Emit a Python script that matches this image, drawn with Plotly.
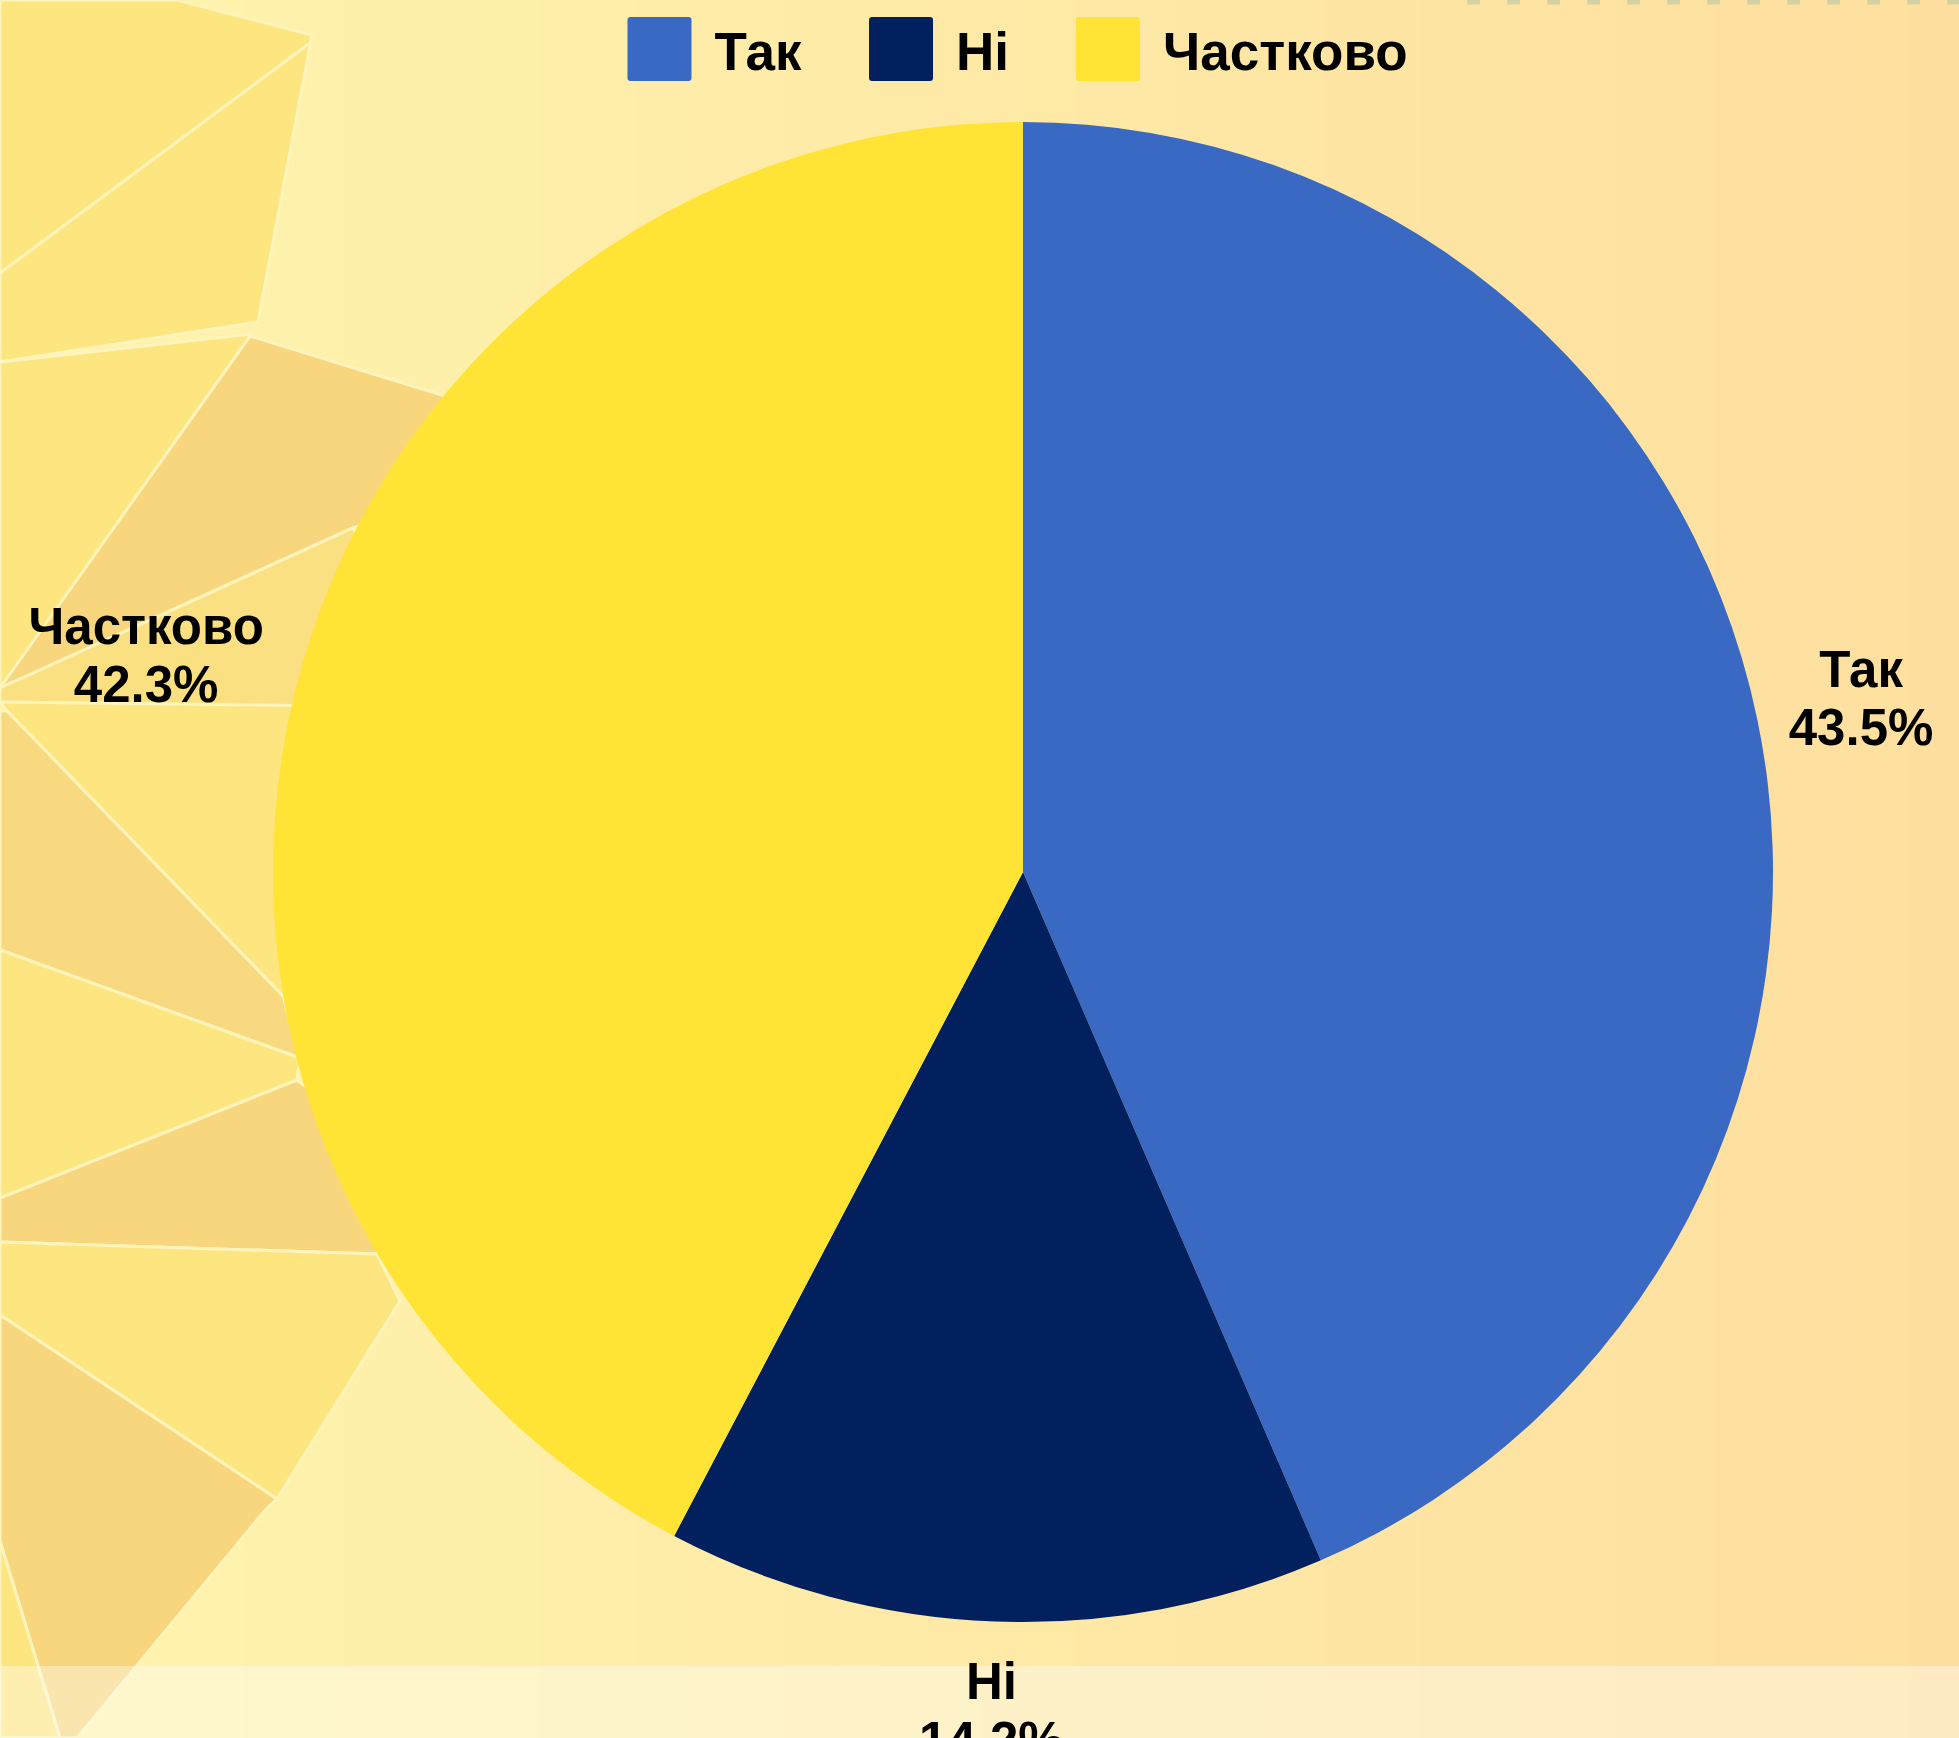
import plotly.graph_objects as go

# ---- data ----
labels = ["Так", "Ні", "Частково"]
values = [43.5, 14.2, 42.3]
colors = ["#3A69C4", "#02205E", "#FFE335"]

W, H = 1959, 1738

def px(x):
    return x / W

def py(y):
    return 1 - y / H

def path(pts):
    s = "M " + " L ".join(f"{px(x):.5f},{py(y):.5f}" for x, y in pts) + " Z"
    return s

shapes = []
# horizontal background gradient in strips
c0 = (0xFE, 0xF4, 0xAD)
c1 = (0xFE, 0xDF, 0x9F)
n = 40
for i in range(n):
    t = i / (n - 1)
    c = tuple(round(a + (b - a) * t) for a, b in zip(c0, c1))
    shapes.append(dict(type="rect", xref="paper", yref="paper", layer="below",
                       x0=i / n, x1=(i + 1) / n + 0.002, y0=0, y1=1,
                       fillcolor="rgb(%d,%d,%d)" % c, line=dict(width=0)))

YEL = "#FDE680"
ORA = "#F8D67E"
polys = [
    (YEL, [(0, 0), (177, 0), (312, 35), (258, 322), (0, 362)]),
    (YEL, [(0, 362), (252, 334), (0, 690)]),
    (ORA, [(250, 336), (445, 396), (520, 470), (353, 528), (20, 679), (0, 688)]),
    ("#FBE081", [(0, 688), (20, 679), (353, 528), (400, 600), (292, 706), (0, 702)]),
    (YEL, [(0, 702), (330, 706), (330, 1000), (283, 996), (7, 711)]),
    ("#F9D97F", [(7, 711), (283, 996), (300, 1058), (0, 950), (0, 711)]),
    (YEL, [(0, 950), (300, 1058), (297, 1080), (0, 1198)]),
    (ORA, [(0, 1198), (297, 1080), (390, 1150), (377, 1254), (0, 1242)]),
    (YEL, [(0, 1242), (377, 1254), (400, 1301), (277, 1499), (0, 1315)]),
    (ORA, [(0, 1315), (277, 1499), (267, 1508), (77, 1738), (60, 1738), (0, 1541)]),
    (YEL, [(0, 1541), (60, 1738), (0, 1738)]),
]
for col, pts in polys:
    shapes.append(dict(type="path", xref="paper", yref="paper", layer="below",
                       path=path(pts), fillcolor=col,
                       line=dict(color="#FFF4BC", width=3)))
shapes.append(dict(type="line", xref="paper", yref="paper", layer="below",
                   x0=px(310), y0=py(43), x1=px(0), y1=py(273),
                   line=dict(color="#FFF4BC", width=3)))
# lighter band at the bottom
shapes.append(dict(type="rect", xref="paper", yref="paper", layer="below",
                   x0=0, x1=1, y0=0, y1=py(1666),
                   fillcolor="rgba(255,255,255,0.38)", line=dict(width=0)))
# dashed strip top right
shapes.append(dict(type="line", xref="paper", yref="paper", layer="below",
                   x0=px(1467), y0=py(2), x1=1, y1=py(2),
                   line=dict(color="#D4D1A2", width=5, dash="13px,27px")))

fig = go.Figure(go.Pie(
    labels=labels,
    values=values,
    marker=dict(colors=colors, line=dict(width=0)),
    sort=False,
    direction="clockwise",
    rotation=0,
    textposition="outside",
    texttemplate="%{label}<br>%{percent:.1%}",
    textfont=dict(family="Liberation Sans", size=51, color="#000000", weight="bold"),
    domain=dict(x=[px(273), px(1773)], y=[py(1622), py(122)]),
    hoverinfo="label+percent",
))

fig.update_layout(
    width=W, height=H,
    margin=dict(l=0, r=0, t=0, b=0, autoexpand=False),
    paper_bgcolor="#FEEBA8",
    plot_bgcolor="rgba(0,0,0,0)",
    shapes=shapes,
    showlegend=True,
    legend=dict(
        orientation="h",
        x=px(565.5), xanchor="left",
        y=py(8), yanchor="top",
        font=dict(family="Liberation Sans", size=53, color="#000000", weight="bold"),
        bgcolor="rgba(0,0,0,0)",
        itemwidth=139,
    ),
)

post = """
document.body.style.margin = '0';
document.body.style.overflow = 'hidden';
document.body.style.background = '#FCF0C6';
var gd = document.getElementsByClassName('plotly-graph-div')[0];
function fixUp(){
  var ps = gd.querySelectorAll('.legendpoints path');
  ps.forEach(function(p){
    p.setAttribute('d', 'M29,32H-29Q-32,32 -32,29V-29Q-32,-32 -29,-32H29Q32,-32 32,-29V29Q32,32 29,32Z');
    p.setAttribute('transform', 'translate(94,0)');
  });
  // outside labels: tighter line spacing, placed along the slice direction
  var cd0 = gd.calcdata[0][0];
  var svgRect = gd.querySelector('.main-svg').getBoundingClientRect();
  var OFF = 32;
  gd.querySelectorAll('g.slicetext').forEach(function(g){
    var pt = g.parentNode.__data__;
    if(!pt || !pt.pxmid) return;
    var t = g.querySelector('text');
    t.querySelectorAll('tspan.line').forEach(function(s, i){
      if(i > 0) s.setAttribute('dy', (i * 1.14).toFixed(2) + 'em');
    });
    g.setAttribute('transform', '');
    var bb = t.getBoundingClientRect();
    var w = bb.width, h = bb.height;
    var ccx = bb.left + w / 2 - svgRect.left;
    var ccy = bb.top + h / 2 - svgRect.top;
    var m = Math.sqrt(pt.pxmid[0] * pt.pxmid[0] + pt.pxmid[1] * pt.pxmid[1]);
    var ux = pt.pxmid[0] / m, uy = pt.pxmid[1] / m;
    var ext = Math.min(Math.abs(ux) > 1e-6 ? (w / 2) / Math.abs(ux) : 1e9,
                       Math.abs(uy) > 1e-6 ? (h / 2) / Math.abs(uy) : 1e9);
    var d = cd0.r + OFF + ext;
    var tx = cd0.cx + ux * d, ty = cd0.cy + uy * d;
    g.setAttribute('transform', 'translate(' + (tx - ccx).toFixed(1) + ',' + (ty - ccy).toFixed(1) + ')');
  });
}
fixUp();
gd.on('plotly_afterplot', fixUp);
"""

fig.write_html("out.html", post_script=post, config={"displayModeBar": False})
